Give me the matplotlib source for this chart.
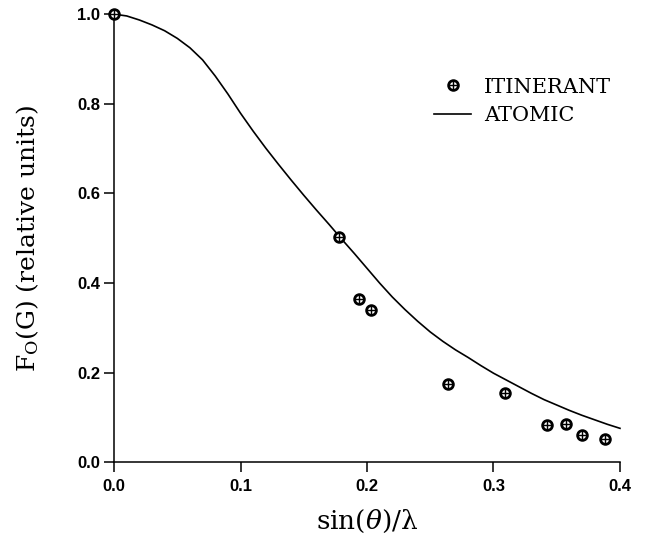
import matplotlib
matplotlib.use("Agg")
import matplotlib.pyplot as plt

# ITINERANT data points
itin_x = [0.0, 0.178, 0.194, 0.203, 0.264, 0.309, 0.342, 0.357, 0.370, 0.388]
itin_y = [1.0, 0.503, 0.364, 0.341, 0.174, 0.155, 0.083, 0.086, 0.062, 0.052]

# ATOMIC curve
atom_x = [0.00, 0.01, 0.02, 0.03, 0.04, 0.05, 0.06, 0.07, 0.08, 0.09, 0.10,
          0.11, 0.12, 0.13, 0.14, 0.15, 0.16, 0.17, 0.18, 0.19, 0.20,
          0.21, 0.22, 0.23, 0.24, 0.25, 0.26, 0.27, 0.28, 0.29, 0.30,
          0.31, 0.32, 0.33, 0.34, 0.35, 0.36, 0.37, 0.38, 0.39, 0.40]
atom_y = [1.000, 0.996, 0.987, 0.976, 0.963, 0.946, 0.925, 0.898, 0.862, 0.822, 0.779,
          0.739, 0.701, 0.665, 0.630, 0.596, 0.563, 0.531, 0.498, 0.466, 0.433,
          0.400, 0.369, 0.341, 0.315, 0.291, 0.270, 0.251, 0.234, 0.216, 0.199,
          0.184, 0.169, 0.154, 0.140, 0.128, 0.116, 0.105, 0.095, 0.085, 0.076]

xticks = [0.0, 0.1, 0.2, 0.3, 0.4]
yticks = [0.0, 0.2, 0.4, 0.6, 0.8, 1.0]

plt.rcParams['mathtext.fontset'] = 'dejavuserif'

fig = plt.figure(figsize=(6.56, 5.44), dpi=100)
ax = fig.add_axes([0.1738, 0.150, 0.7713, 0.824])

line, = ax.plot(atom_x, atom_y, color='black', lw=1.2, clip_on=False)
m1, = ax.plot(itin_x, itin_y, linestyle='none', marker='o', markersize=7,
              mfc='white', mec='black', mew=2.0, clip_on=False, zorder=3)
m2, = ax.plot(itin_x, itin_y, linestyle='none', marker='+', markersize=5.5,
              color='black', mew=1.0, clip_on=False, zorder=4)

ax.set_xlim(0, 0.4)
ax.set_ylim(0, 1.0)
ax.spines['top'].set_visible(False)
ax.spines['right'].set_visible(False)
ax.spines['left'].set_linewidth(1.1)
ax.spines['bottom'].set_linewidth(1.1)
ax.set_xticks(xticks)
ax.set_yticks(yticks)
ax.set_xticklabels([f"{v:.1f}" for v in xticks])
ax.set_yticklabels([f"{v:.1f}" for v in yticks])
ax.tick_params(direction='out', length=7, width=1.1, pad=3)
ax.tick_params(axis='x', pad=5)
for lab in ax.get_xticklabels() + ax.get_yticklabels():
    lab.set_fontfamily('Liberation Sans')
    lab.set_fontweight('bold')
    lab.set_fontsize(12)

ax.set_xlabel('sin($\\theta$)/λ', fontsize=19, labelpad=10,
              fontfamily='DejaVu Serif')
ax.set_ylabel(r'$\mathrm{F_O(G)}$ (relative units)', fontsize=18, labelpad=26,
              fontfamily='DejaVu Serif')

leg = ax.legend([(m1, m2), line], ['ITINERANT', 'ATOMIC'], frameon=False,
                loc='upper left', bbox_to_anchor=(0.595, 0.90),
                prop={'family': 'DejaVu Serif', 'size': 15},
                handlelength=1.8, handletextpad=0.6, labelspacing=0.45)

fig.savefig('out.png', dpi=100)
